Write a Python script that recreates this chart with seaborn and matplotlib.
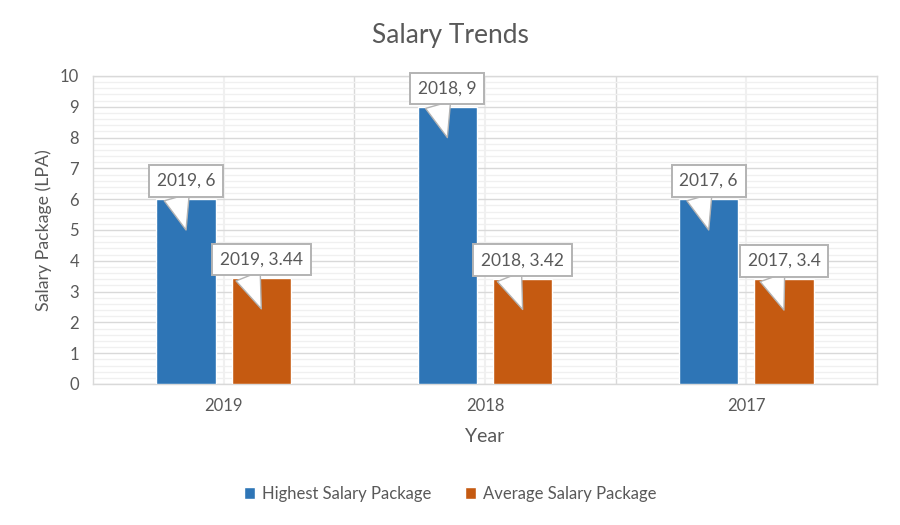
import matplotlib
matplotlib.use("Agg")
import matplotlib.pyplot as plt
import seaborn as sns
import pandas as pd
import numpy as np
from matplotlib.ticker import MultipleLocator, FixedLocator

years = ["2019", "2018", "2017"]
highest = [6, 9, 6]
average = [3.44, 3.42, 3.4]
series_names = ["Highest Salary Package", "Average Salary Package"]
colors = ["#2E75B6", "#C55A11"]

df = pd.DataFrame({
    "Year": years * 2,
    "Value": highest + average,
    "Series": [series_names[0]] * 3 + [series_names[1]] * 3,
})

sns.set_theme(style="white")
plt.rcParams['font.family'] = ['Lato', 'DejaVu Sans']
txt = "#595959"

fig = plt.figure(figsize=(9, 5.25), dpi=100)
ax = fig.add_axes([93/900, 1 - 384/525, (877-93)/900, (384-76)/525])

sns.barplot(data=df, x="Year", y="Value", hue="Series", order=years,
            hue_order=series_names, palette=colors, width=0.576, gap=0.215,
            saturation=1, ax=ax, legend=True, zorder=3)

ax.set_xlim(-0.5, 2.5)
ax.set_ylim(0, 10)
ax.yaxis.set_major_locator(MultipleLocator(1))
ax.yaxis.set_minor_locator(MultipleLocator(0.2))
ax.xaxis.set_minor_locator(FixedLocator([0.5, 1.5]))
ax.grid(which="major", axis="y", color="#d9d9d9", lw=1.0, zorder=0)
ax.grid(which="minor", axis="y", color="#f0f0f0", lw=1.0, zorder=0)
ax.grid(which="major", axis="x", color="#f0f0f0", lw=1.5, zorder=0)
ax.grid(which="minor", axis="x", color="#d9d9d9", lw=1.0, zorder=0)
ax.set_axisbelow(True)
for s in ax.spines.values():
    s.set_visible(True)
    s.set_color("#d9d9d9")
    s.set_linewidth(1.0)
ax.tick_params(which="both", length=0, colors=txt, labelsize=12)
ax.tick_params(axis="x", pad=10)
ax.tick_params(axis="y", pad=10)

ax.set_xlabel("Year", fontsize=14, color=txt, labelpad=10)
ax.set_ylabel("Salary Package (LPA)", fontsize=12.8, color=txt, labelpad=6)
fig.suptitle("Salary Trends", fontsize=19, color=txt, y=1 - 35/525, va="center")

# callouts
for ci, cont in enumerate(ax.containers):
    for bar, yr in zip(cont.patches, years):
        xc = bar.get_x() + bar.get_width() / 2
        h = bar.get_height()
        label = f"{yr}, {h:g}"
        ax.annotate(label, xy=(xc, h - 1.0), xytext=(xc, h + 0.6),
                    ha="center", va="center", fontsize=12.5, color=txt, zorder=6,
                    bbox=dict(boxstyle="square,pad=0.45", fc="white", ec="#b3b3b3", lw=1.4),
                    arrowprops=dict(arrowstyle="wedge,tail_width=1.5,shrink_factor=0.5",
                                    fc="white", ec="#b3b3b3", lw=1.0,
                                    relpos=(0.3, 0.0), shrinkA=0, shrinkB=0))

leg = ax.get_legend()
handles, labels = ax.get_legend_handles_labels()
leg.remove()
fig.legend(handles, labels, loc="center", bbox_to_anchor=(0.5, 1 - 494/525),
           ncol=2, frameon=False, fontsize=12, labelcolor=txt,
           handlelength=0.7, handleheight=0.7, handletextpad=0.4, columnspacing=2.0)

fig.savefig("out.png", dpi=100)
